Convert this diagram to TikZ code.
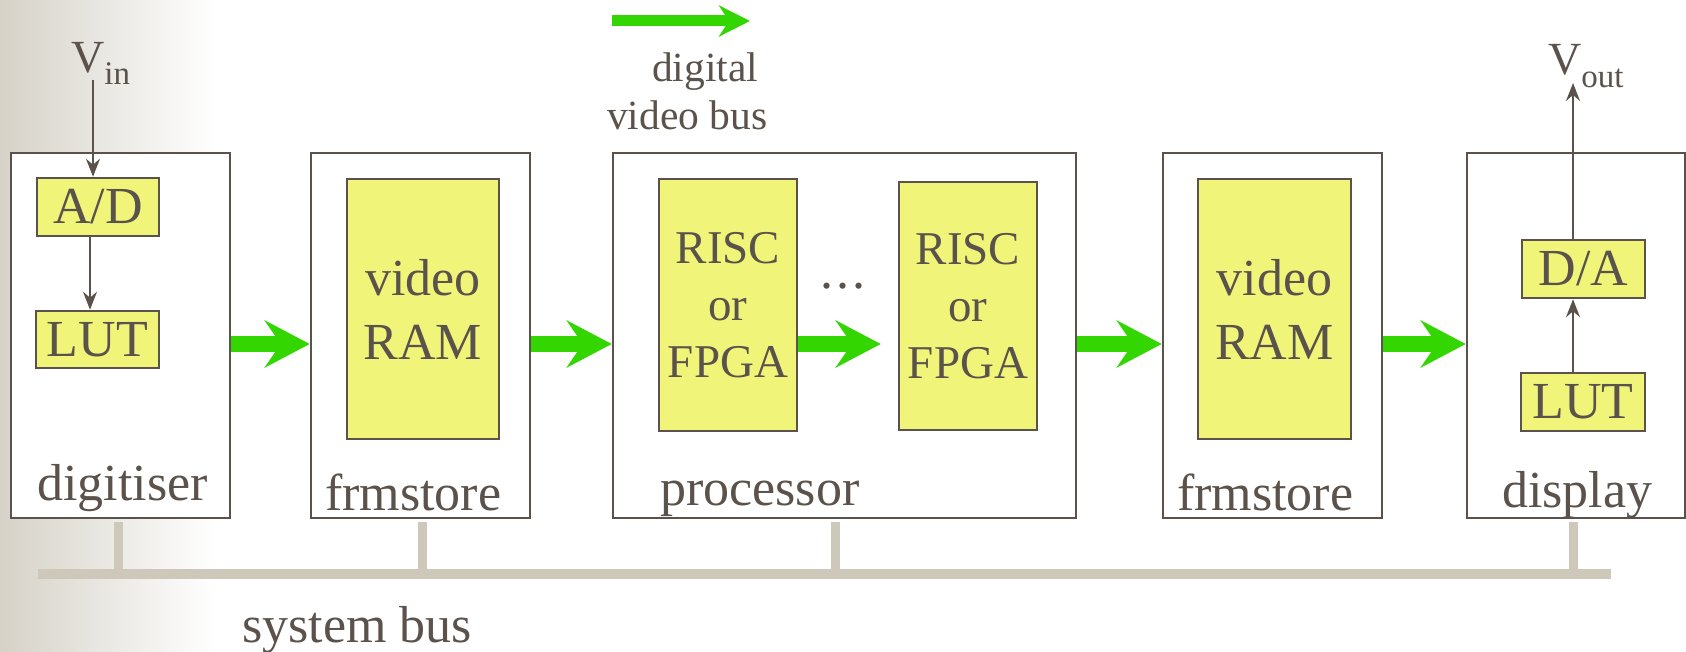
\documentclass[tikz,border=0pt]{standalone}
\usepackage{fontspec}
\setmainfont{Liberation Serif}
\usetikzlibrary{arrows.meta,calc}

\definecolor{ink}{HTML}{5B534B}
\definecolor{chip}{HTML}{F0F57A}
\definecolor{flow}{HTML}{33D600}
\definecolor{busc}{HTML}{CEC8BB}
\definecolor{edge}{HTML}{D6D2C8}

\tikzset{
  unit/.style={draw=ink, line width=2.5pt, fill=white, inner sep=0pt},
  chipbox/.style={draw=ink, line width=2.5pt, fill=chip, inner sep=0pt,
    text=ink, align=center, font=\fontsize{52}{64}\selectfont},
  cpubox/.style={chipbox, font=\fontsize{47}{57}\selectfont},
  lbl/.style={text=ink, inner sep=0pt, font=\fontsize{52}{60}\selectfont},
  sig/.style={text=ink, inner sep=0pt, font=\fontsize{46}{50}\selectfont},
  thin/.style={draw=ink, line width=2pt, -{Stealth[length=18pt,width=14pt,inset=6pt]}},
  bigflow/.style={draw=flow, line width=16pt, -{Stealth[length=45pt,width=47pt,inset=16pt]}},
  keyflow/.style={draw=flow, line width=11pt, -{Stealth[length=31pt,width=31pt,inset=10pt]}},
  busline/.style={draw=busc, line width=10pt},
  drop/.style={draw=busc, line width=9pt},
}

\begin{document}
\begin{tikzpicture}[x=1pt,y=-1pt]
\useasboundingbox (0,0) rectangle (1686,652);
% soft grey edge on the left
\shade[left color=edge, right color=white] (0,0) rectangle (215,652);

% functional units
\node[unit, minimum width=219pt, minimum height=365pt] (dig)  at (120.5,335.5) {};
\node[unit, minimum width=219pt, minimum height=365pt] (fs1)  at (420.5,335.5) {};
\node[unit, minimum width=463pt, minimum height=365pt] (proc) at (844.5,335.5) {};
\node[unit, minimum width=219pt, minimum height=365pt] (fs2)  at (1272.5,335.5) {};
\node[unit, minimum width=218pt, minimum height=365pt] (disp) at (1576,335.5) {};

% unit names
\node[lbl, anchor=base west] (ldig)  at (37,500)   {digitiser};
\node[lbl, anchor=base west] (lfs1)  at (325,510)  {frmstore};
\node[lbl, anchor=base west] (lproc) at (660,505)  {processor};
\node[lbl, anchor=base west] (lfs2)  at (1177,510) {frmstore};
\node[lbl, anchor=base west] (ldisp) at (1502,507) {display};

% inner blocks
\node[chipbox, minimum width=122pt, minimum height=58pt] (ad)   at (98,207)    {A/D};
\node[chipbox, minimum width=123pt, minimum height=57pt] (lut1) at (97.5,339.5) {LUT};
\node[chipbox, minimum width=152pt, minimum height=260pt] (vr1) at (423,309)   {video\\RAM};
\node[cpubox,  minimum width=138pt, minimum height=252pt] (cpu1) at (728,305)  {RISC\\or\\FPGA};
\node[cpubox,  minimum width=138pt, minimum height=248pt] (cpu2) at (968,306)  {RISC\\or\\FPGA};
\node[chipbox, minimum width=153pt, minimum height=260pt] (vr2) at (1274.5,309) {video\\RAM};
\node[chipbox, minimum width=123pt, minimum height=58pt] (da)   at (1583.5,269) {D/A};
\node[chipbox, minimum width=124pt, minimum height=58pt] (lut2) at (1583,402)  {LUT};
\node[lbl, anchor=base west] (dots) at (820,288) {.\kern3pt.\kern3pt.};

% analogue in and out
\node[sig, anchor=base west] (vin) at (71,73)
  {V\raisebox{-12pt}{\fontsize{33}{33}\selectfont in}};
\node[sig, anchor=base west] (vout) at (1548,75)
  {V\raisebox{-13pt}{\fontsize{33}{33}\selectfont out}};
\coordinate (vinend) at (93,80);
\coordinate (voutend) at (1573,83);
\draw[thin] (vinend) -- (vinend |- ad.north);
\draw[thin] (ad.south -| 90,0) -- (lut1.north -| 90,0);
\draw[thin] (lut2.north -| 1573,0) -- (da.south -| 1573,0);
\draw[thin] (da.north -| 1573,0) -- (voutend);

% digital video bus
\coordinate (fy) at (0,344);
\draw[bigflow] (dig.east |- fy) -- (fs1.west |- fy);
\draw[bigflow] (fs1.east |- fy) -- (proc.west |- fy);
\draw[bigflow, shorten >=17pt] (cpu1.east |- fy) -- (cpu2.west |- fy);
\draw[bigflow] (proc.east |- fy) -- (fs2.west |- fy);
\draw[bigflow] (fs2.east |- fy) -- (disp.west |- fy);

% key for the video bus
\coordinate (k0) at (612,21);
\coordinate (k1) at (750,21);
\draw[keyflow] (k0) -- (k1);
\node[text=ink, inner sep=0pt, anchor=base west, align=left,
      font=\fontsize{41.5}{48}\selectfont] (key) at (607,130)
  {\hspace{45pt}digital\\video bus};

% system bus
\coordinate (busL) at (38,574);
\coordinate (busR) at (1611,574);
\coordinate (t1) at (118,522);
\coordinate (t2) at (422,522);
\coordinate (t3) at (835,522);
\coordinate (t4) at (1573,522);
\foreach \t in {t1,t2,t3,t4}
  \draw[drop] (\t) -- (\t |- busL);
\draw[busline] (busL) -- (busR);
\node[lbl, anchor=base west] (sysbus) at (242,642) {system bus};
\end{tikzpicture}
\end{document}
